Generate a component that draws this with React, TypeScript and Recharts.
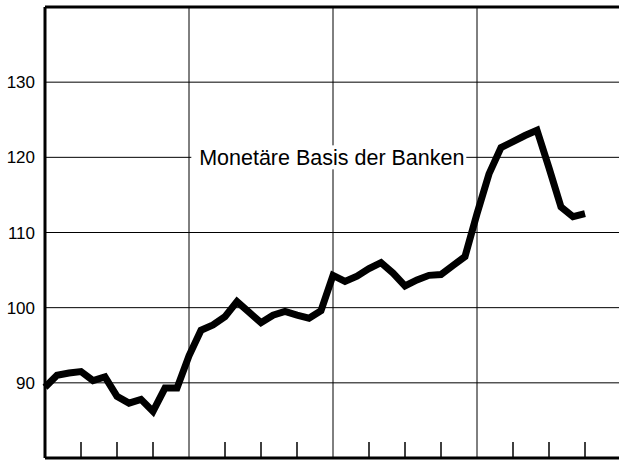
import React from 'react';
import {
  LineChart,
  Line,
  XAxis,
  YAxis,
  CartesianGrid,
  ReferenceLine,
  ReferenceDot
} from 'recharts';

// Monetäre Basis der Banken, monthly index values over four years
const basis = [
  89.4, 91.0, 91.3, 91.5, 90.3, 90.8, 88.2, 87.3, 87.8, 86.2, 89.3, 89.3,
  93.6, 97.0, 97.7, 98.8, 100.8, 99.4, 98.0, 99.0, 99.5, 99.0, 98.6, 99.6,
  104.3, 103.5, 104.2, 105.2, 106.0, 104.6, 102.9, 103.7, 104.3, 104.4, 105.6, 106.8,
  112.5, 117.8, 121.3, 122.1, 122.9, 123.6, 118.6, 113.4, 112.1, 112.5
];

const yTicks = [90, 100, 110, 120, 130];
const quarterTicks = [3, 6, 9, 15, 18, 21, 27, 30, 33, 39, 42, 45];
const yearLines = [12, 24, 36];
const seriesLabel = 'Monetäre Basis der Banken';
const labelAt = { m: 23.9, v: 120 };

const data = basis.map((v, i) => ({ m: i, v }));

const FONT = '"Liberation Sans", Arial, sans-serif';

function SeriesLabel(props: any) {
  const { cx, cy } = props;
  return (
    <g>
      <rect x={cx - 140.5} y={cy - 12} width={275} height={24} fill="#fff" />
      <text
        x={cx}
        y={cy + 7.6}
        textAnchor="middle"
        fontFamily={FONT}
        fontSize={21.5}
        fill="#000"
      >
        {seriesLabel}
      </text>
    </g>
  );
}

export default function App() {
  return (
    <div style={{ position: 'absolute', left: 0, top: 0, width: 619, height: 460, overflow: 'hidden', background: '#fff' }}>
      <LineChart width={621} height={460} data={data} margin={{ top: 7, right: 0, left: 0, bottom: 2 }}>
        <CartesianGrid stroke="#000" strokeWidth={1} vertical={false} />
        <XAxis
          dataKey="m"
          type="number"
          domain={[0, 48]}
          ticks={quarterTicks}
          mirror
          height={1}
          tickSize={16}
          tickFormatter={() => ''}
          axisLine={{ stroke: '#000', strokeWidth: 3 }}
          tickLine={{ stroke: '#000', strokeWidth: 1.5 }}
        />
        <YAxis
          type="number"
          domain={[80, 140]}
          ticks={yTicks}
          width={45}
          tickSize={0}
          tickMargin={10}
          tickLine={false}
          axisLine={{ stroke: '#000', strokeWidth: 3 }}
          tick={{ fill: '#000', fontSize: 17, fontFamily: FONT }}
        />
        {yearLines.map(m => (
          <ReferenceLine key={m} x={m} stroke="#000" strokeWidth={1} />
        ))}
        <ReferenceLine y={140} stroke="#000" strokeWidth={3} />
        <ReferenceDot x={labelAt.m} y={labelAt.v} shape={SeriesLabel} />
        <Line
          dataKey="v"
          type="linear"
          stroke="#000"
          strokeWidth={7}
          dot={false}
          activeDot={false}
          isAnimationActive={false}
        />
      </LineChart>
    </div>
  );
}
